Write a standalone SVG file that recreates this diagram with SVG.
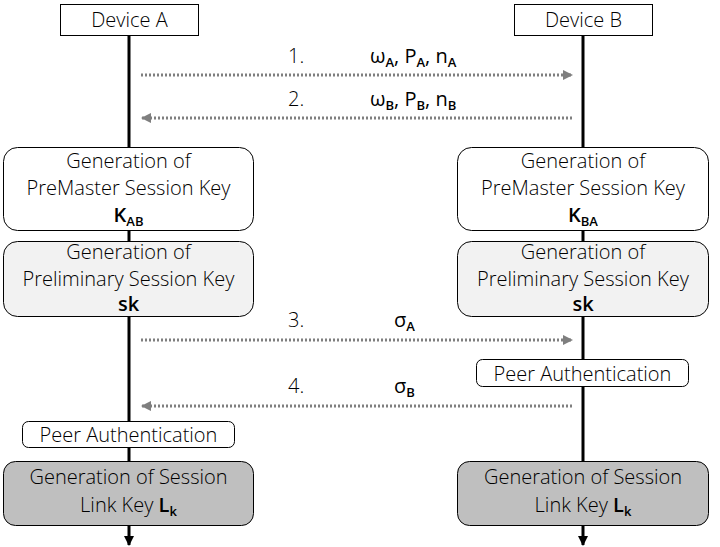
<svg xmlns="http://www.w3.org/2000/svg" width="720" height="547" viewBox="0 0 720 547">
<defs>
<style>
text{font-family:"Open Sans","Noto Sans","Liberation Sans",sans-serif;font-size:20px;font-weight:300;fill:#000}
.c{text-anchor:middle}
.b{font-weight:600}
.m{font-weight:400}
.sub{font-size:13px;font-weight:600}
.life{stroke:#000;stroke-width:3;fill:none}
.msg{stroke:#7f7f7f;stroke-width:3;stroke-dasharray:2 2;fill:none}
.box{stroke:#000;stroke-width:1}
</style>
<marker id="ah" viewBox="0 0 10 10" refX="9" refY="5" markerWidth="3.5" markerHeight="3.5" orient="auto" markerUnits="strokeWidth"><path d="M0,0L10,5L0,10z" fill="#7f7f7f"/></marker>
<marker id="lh" viewBox="0 0 10 10" refX="9" refY="5" markerWidth="3.5" markerHeight="3.5" orient="auto" markerUnits="strokeWidth"><path d="M0,0L10,5L0,10z" fill="#000"/></marker>
</defs>
<rect width="720" height="547" fill="#fff"/>
<g id="connectors">
<line class="life" x1="129" y1="36" x2="129" y2="545" marker-end="url(#lh)"/>
<line class="life" x1="583" y1="36" x2="583" y2="545" marker-end="url(#lh)"/>
<line class="msg" x1="141" y1="75" x2="572" y2="75" marker-end="url(#ah)"/>
<line class="msg" x1="572" y1="118" x2="142" y2="118" marker-end="url(#ah)"/>
<line class="msg" x1="141" y1="340" x2="572" y2="340" marker-end="url(#ah)"/>
<line class="msg" x1="572" y1="406" x2="142" y2="406" marker-end="url(#ah)"/>
</g>
<g id="labels">
<text x="288" y="63">1.</text>
<text x="370" y="63" class="m">ω<tspan class="sub" dy="4">A</tspan><tspan dy="-4">, P</tspan><tspan class="sub" dy="4">A</tspan><tspan dy="-4">, n</tspan><tspan class="sub" dy="4">A</tspan></text>
<text x="288" y="106">2.</text>
<text x="370" y="106" class="m">ω<tspan class="sub" dy="4">B</tspan><tspan dy="-4">, P</tspan><tspan class="sub" dy="4">B</tspan><tspan dy="-4">, n</tspan><tspan class="sub" dy="4">B</tspan></text>
<text x="288" y="327">3.</text>
<text x="394" y="327" class="m">σ<tspan class="sub" dy="4">A</tspan></text>
<text x="288" y="393">4.</text>
<text x="394" y="393" class="m">σ<tspan class="sub" dy="4">B</tspan></text>
</g>
<g id="deviceA">
<rect class="box" x="60.5" y="4.5" width="138" height="31" fill="#fff"/>
<text class="c" x="129.5" y="27">Device A</text>
</g>
<g id="deviceB">
<rect class="box" x="514.5" y="4.5" width="138" height="31" fill="#fff"/>
<text class="c" x="583.5" y="27">Device B</text>
</g>
<g id="premasterA">
<rect class="box" x="3.5" y="147.5" width="250" height="83" rx="14" fill="#fff"/>
<text class="c" x="128.5" y="168">Generation of</text>
<text class="c" x="128.5" y="195">PreMaster Session Key</text>
<text class="c b" x="128.5" y="222">K<tspan class="sub" dy="4">AB</tspan></text>
</g>
<g id="premasterB">
<rect class="box" x="457.5" y="147.5" width="251" height="83" rx="14" fill="#fff"/>
<text class="c" x="583" y="168">Generation of</text>
<text class="c" x="583" y="195">PreMaster Session Key</text>
<text class="c b" x="583" y="222">K<tspan class="sub" dy="4">BA</tspan></text>
</g>
<g id="prelimA">
<rect class="box" x="3.5" y="241.5" width="250" height="75" rx="14" fill="#f2f2f2"/>
<text class="c" x="128.5" y="259">Generation of</text>
<text class="c" x="128.5" y="286">Preliminary Session Key</text>
<text class="c b" x="128.5" y="311">sk</text>
</g>
<g id="prelimB">
<rect class="box" x="457.5" y="241.5" width="251" height="75" rx="14" fill="#f2f2f2"/>
<text class="c" x="583" y="259">Generation of</text>
<text class="c" x="583" y="286">Preliminary Session Key</text>
<text class="c b" x="583" y="311">sk</text>
</g>
<g id="peerB">
<rect class="box" x="476.5" y="359.5" width="212" height="27" rx="6" fill="#fff"/>
<text class="c" x="582.5" y="381">Peer Authentication</text>
</g>
<g id="peerA">
<rect class="box" x="22.5" y="421.5" width="212" height="26" rx="6" fill="#fff"/>
<text class="c" x="128.5" y="442">Peer Authentication</text>
</g>
<g id="linkA">
<rect class="box" x="3.5" y="461.5" width="250" height="64" rx="12" fill="#bfbfbf"/>
<text class="c" x="128.5" y="484">Generation of Session</text>
<text class="c" x="128.5" y="512">Link Key <tspan class="b">L</tspan><tspan class="sub" dy="4">k</tspan></text>
</g>
<g id="linkB">
<rect class="box" x="457.5" y="461.5" width="251" height="64" rx="12" fill="#bfbfbf"/>
<text class="c" x="583" y="484">Generation of Session</text>
<text class="c" x="583" y="512">Link Key <tspan class="b">L</tspan><tspan class="sub" dy="4">k</tspan></text>
</g>
</svg>
